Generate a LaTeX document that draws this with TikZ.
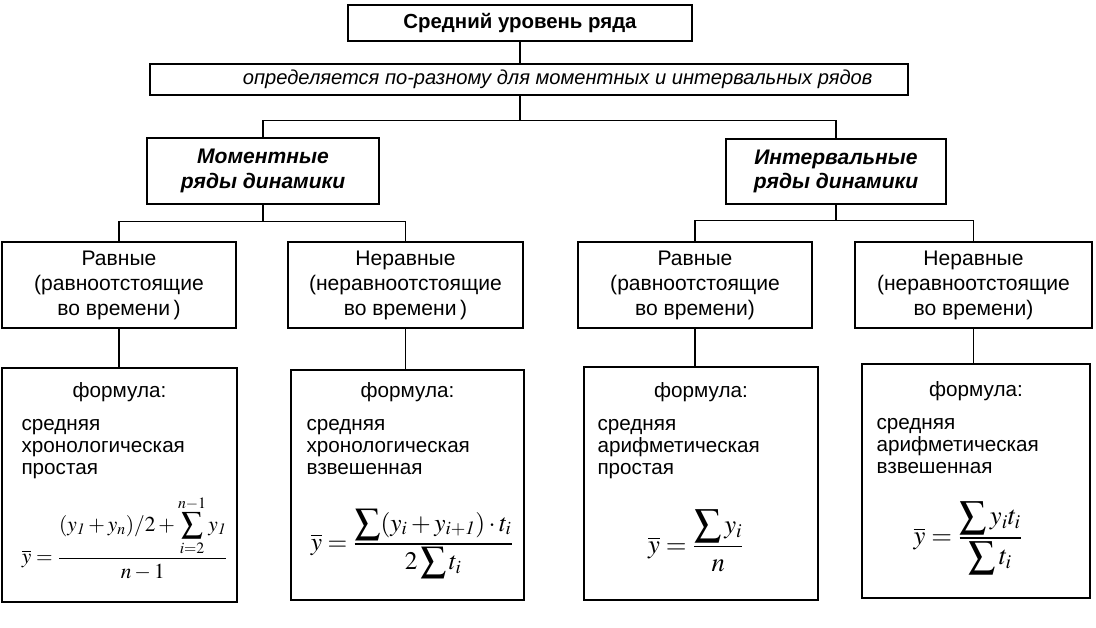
\documentclass[tikz,border=0pt]{standalone}
\usepackage{mathptmx}
\usepackage[no-math]{fontspec}
\setmainfont{Liberation Sans}
\usepackage{amsmath}
\usetikzlibrary{calc}

\tikzset{
  box/.style={draw, line width=1.1pt, inner sep=0pt, align=center},
  txt/.style={inner sep=0pt, align=left, font=\fontsize{15.5}{16.5}\selectfont},
  frm/.style={inner sep=0pt},
  link/.style={line width=1.1pt}
}

\begin{document}
\begin{tikzpicture}[x=0.75pt,y=-0.75pt]
  \useasboundingbox (0,0) rectangle (1096,628);
  \fill[white] (0,0) rectangle (1096,628);

  %верхние блоки
  \node[box, minimum width=344*0.75pt, minimum height=36*0.75pt, font=\fontsize{15.3}{16}\selectfont\bfseries] (top) at (520,23) {Средний уровень ряда};
  \node[box, minimum width=758*0.75pt, minimum height=31*0.75pt, font=\fontsize{15.1}{16}\selectfont\itshape] (def) at (529,79.5) {\hspace*{43pt}определяется по-разному для моментных и интервальных рядов};

  %виды рядов
  \node[box, minimum width=232*0.75pt, minimum height=66*0.75pt, font=\fontsize{15.8}{18.5}\selectfont\bfseries\itshape] (mom) at (263,171) {Моментные\\ряды динамики};
  \node[box, minimum width=220*0.75pt, minimum height=65*0.75pt, font=\fontsize{15.8}{18.5}\selectfont\bfseries\itshape] (int) at (836,171.5) {Интервальные\\ряды динамики};

  \node[box, minimum width=234*0.75pt, minimum height=86*0.75pt, font=\fontsize{15.8}{18.75}\selectfont] (r1) at (119,285) {Равные\\(равноотстоящие\\во времени\,)};
  \node[box, minimum width=235*0.75pt, minimum height=86*0.75pt, font=\fontsize{15.8}{18.75}\selectfont] (r2) at (405.5,285) {Неравные\\(неравноотстоящие\\во времени\,)};
  \node[box, minimum width=234*0.75pt, minimum height=86*0.75pt, font=\fontsize{15.8}{18.75}\selectfont] (r3) at (695,285) {Равные\\(равноотстоящие\\во времени)};
  \node[box, minimum width=237*0.75pt, minimum height=86*0.75pt, font=\fontsize{15.8}{18.75}\selectfont] (r4) at (973.5,285) {Неравные\\(неравноотстоящие\\во времени)};

  %формулы
  \node[box, minimum width=235*0.75pt, minimum height=234*0.75pt] (f1) at (119.5,485) {};
  \node[box, minimum width=233*0.75pt, minimum height=230*0.75pt] (f2) at (407.5,485) {};
  \node[box, minimum width=234*0.75pt, minimum height=233*0.75pt] (f3) at (701,483.5) {};
  \node[box, minimum width=228*0.75pt, minimum height=234*0.75pt] (f4) at (976,481) {};

  \node[txt, anchor=north] (f1h) at ($(f1.north)+(0,15)$) {формула:};
  \node[txt, anchor=north] (f2h) at ($(f2.north)+(0,13)$) {формула:};
  \node[txt, anchor=north] (f3h) at ($(f3.north)+(0,16)$) {формула:};
  \node[txt, anchor=north] (f4h) at ($(f4.north)+(0,18)$) {формула:};

  \node[txt, anchor=north west] (f1d) at ($(f1.north west)+(20,52)$) {средняя\\хронологическая\\простая};
  \node[txt, anchor=north west] (f2d) at ($(f2.north west)+(16,50)$) {средняя\\хронологическая\\взвешенная};
  \node[txt, anchor=north west] (f3d) at ($(f3.north west)+(14,53)$) {средняя\\арифметическая\\простая};
  \node[txt, anchor=north west] (f4d) at ($(f4.north west)+(15,55)$) {средняя\\арифметическая\\взвешенная};

  \node[frm, font=\fontsize{16}{18}\selectfont] (f1m) at (125,538) {$\overline{y}=\dfrac{\displaystyle(y_{\mathit{1}}+y_n)/2+\sum_{i=2}^{n-1}y_{\mathit{1}}}{n-1}$};
  \node[frm, font=\fontsize{19}{21}\selectfont] (f2m) at (412,544) {$\overline{y}=\dfrac{\displaystyle\sum(y_i+y_{i+\mathit{1}})\cdot t_i}{\displaystyle 2\sum t_i}$};
  \node[frm, font=\fontsize{20}{22}\selectfont] (f3m) at (696,541) {$\overline{y}=\dfrac{\displaystyle\sum y_i}{n}$};
  \node[frm, font=\fontsize{20}{22}\selectfont] (f4m) at (968,538) {$\overline{y}=\dfrac{\displaystyle\sum y_it_i}{\displaystyle\sum t_i}$};

  %соединения
  \draw[link] (top.south) -- (top.south |- def.north);
  \draw[link] (top.south |- def.south) -- ++(0,25) coordinate (j0);
  \draw[link] (mom.north) |- (j0) -| (int.north);

  \draw[link] (mom.south) -- ++(0,17) coordinate (j1);
  \draw[link] (r1.north) |- (j1) -| (r2.north);
  \draw[link] (int.south) -- ++(0,16) coordinate (j2);
  \draw[link] (r3.north) |- (j2) -| (r4.north);

  \draw[link] (r1.south) -- (r1.south |- f1.north);
  \draw[link] (r2.south) -- (r2.south |- f2.north);
  \draw[link] (r3.south) -- (r3.south |- f3.north);
  \draw[link] (r4.south) -- (r4.south |- f4.north);
\end{tikzpicture}
\end{document}
